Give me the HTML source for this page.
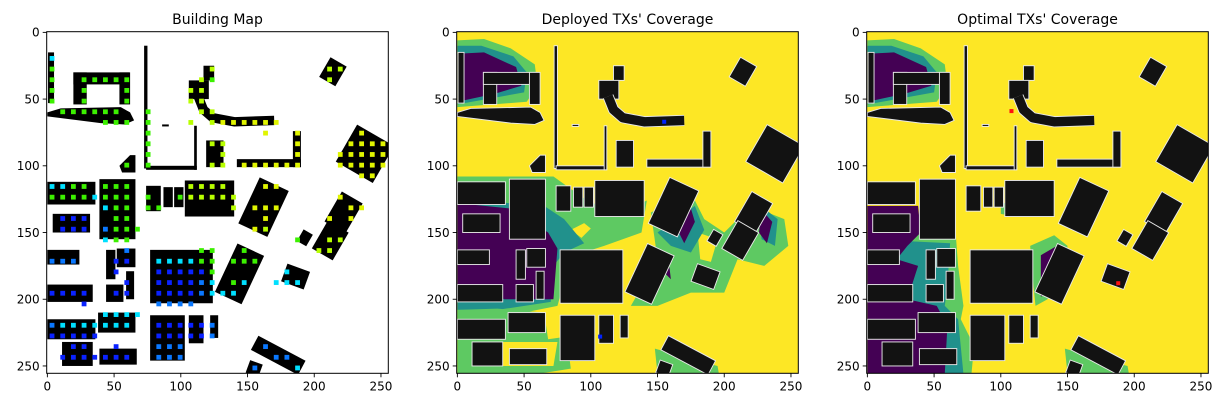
<!DOCTYPE html>
<html><head><meta charset="utf-8"><style>
html,body{margin:0;padding:0;background:#fff;}
svg{display:block;font-family:"DejaVu Sans","Liberation Sans",sans-serif;}
</style></head><body>
<svg id="fig" width="1224" height="407" viewBox="0 0 1224 407" xmlns="http://www.w3.org/2000/svg"></svg>
<script>
// ---- data ----
const panelTitles = ["Building Map", "Deployed TXs' Coverage", "Optimal TXs' Coverage"];
const panelLeft = [46.7, 456.7, 866.7];
const tickValues = [0, 50, 100, 150, 200, 250];
const tickLabels = ["0", "50", "100", "150", "200", "250"];
// buildings as rects [x, y, w, h, rotationDeg] in grid cells
const buildingRects = [
 [0.5,15,4.5,38,0],[19.5,30,10,24,0],[19.5,30,42,9,0],[54,30,8,24,0],
 [72.5,10,2.5,92,0],[74,100,38,3,0],[110,70,2,33,0],[86,69,5,1.5,0],
 [117,25,8,11,0],[106,36,15,14,0],[119,81,13,20,0],[142,95,48,6,0],[184,74,6,27,0],
 [207,21,14,17,30],[222,75,32,32,30],
 [0,112,36,17,0],[39,110,27,45,0],[74,115,11,19,0],[87,116,7,15,0],[95,116,7,15,0],[103,111,37,27,0],
 [4,136,28,14,0],[150,112,24,38,25],[213,122,18,26,30],[203,144,18,24,30],[189,149,8,10,30],
 [0,163,24,11,0],[44,163,7,22,0],[52,162,14,14,0],[59,179,6,21,0],[44,189,13,13,0],
 [77,163,47,40,0],[133,161,22,40,25],[177,176,18,14,20],[0,189,34,13,0],
 [0,215,36,15,0],[38,210,28,15,0],[77,212,26,34,0],[106,212,11,21,0],[122,212,6,17,0],
 [11,232,23,18,0],[39,237,28,12,0],[153,236,40,12,28],[150,247,10,10,20]
];
const buildingPolys = [
 [[0,60],[10,57],[55,56],[62,60],[65,66],[58,69],[40,68],[0,63]],
 [[54,100],[62,92],[66,92],[66,105],[56,105]]
];
const curveBuilding = [[113,48],[117,58],[124,64],[140,67],[170,66]];
// dot grid rows: row j, chars per column i; g green, y yellow-green, Y yellow, c cyan, m medium blue, b blue
const dotRows = [
 "................................",
 "................................",
 "c...............................",
 "g..............y..........yy....",
 "g..ggggg......yg..........y.....",
 "g..g...g.....yy.................",
 "g..g...g.....yy.................",
 ".gggggg..g....yy................",
 ".....ggg.g...y.yYYYYYY..........",
 ".........g..........Y..Y.....Y..",
 ".........g.....yy......Y....YYYY",
 ".........g......y......Y...YYYYY",
 ".......g.g.....yy.YYYYYY...YYYYY",
 ".............................YY.",
 "ccgg.ggg.....yyyy...YY..........",
 "ggggcggg.g..gyyyyy.........Y....",
 ".....cgg.gg......y.YYY......YY..",
 ".bbb..gg............Y.....Y.Y...",
 ".bbb.mggg..........Yy...........",
 ".....cgg...............g..yy....",
 ".......m......gg..g......yy.....",
 "mmm...bb..ccccgg.ggg............",
 "......b...bbbbbg......c.........",
 ".......b..bbbbmc.gc..ccc........",
 "bbbb..bb..bbbbmccc..............",
 "...b......mmmm..................",
 ".....cccc.......................",
 "mccccccc..bbbbbm................",
 "bbbbb.....bbbbbm................",
 "..bb..b...mmm.......m...........",
 ".bbbbbbb..mmm........mm.........",
 "...................m...c........"
];
const dotColors = {g:"#3cf000", y:"#b8ff00", Y:"#e0f500", c:"#00e0ff", m:"#0a78ff", b:"#0a22ff"};
// coverage regions per panel: [color, polygon]
const coverage2 = [
 ["#5ec962",[[0,6],[20,5],[40,12],[58,24],[60,40],[52,52],[0,56]]],
 ["#21918c",[[0,10],[18,10],[42,18],[52,30],[50,45],[0,54]]],
 ["#440154",[[0,16],[20,15],[44,26],[48,40],[28,46],[0,52]]],
 ["#5ec962",[[0,108],[72,108],[100,128],[130,132],[142,126],[138,150],[110,160],[85,168],[75,205],[40,212],[0,214]]],
 ["#fde725",[[85,148],[95,143],[100,147],[93,154]]],
 ["#21918c",[[0,125],[65,130],[80,140],[95,158],[80,165],[72,175],[70,202],[30,208],[0,208]]],
 ["#440154",[[0,128],[40,132],[68,150],[75,162],[72,200],[35,200],[15,190],[0,192]]],
 ["#5ec962",[[0,208],[30,207],[65,210],[68,230],[82,228],[85,252],[60,256],[0,256]]],
 ["#fde725",[[12,232],[75,232],[72,250],[12,250]]],
 ["#5ec962",[[145,135],[175,120],[185,140],[200,150],[220,130],[245,140],[248,160],[230,175],[210,170],[200,195],[175,195],[150,205],[130,205],[150,170]]],
 ["#fde725",[[180,150],[195,155],[190,172],[182,170]]],
 ["#21918c",[[150,150],[178,130],[185,148],[175,165],[160,160]]],
 ["#21918c",[[225,128],[240,140],[238,160],[228,155]]],
 ["#440154",[[165,148],[175,132],[178,142],[170,158]]],
 ["#440154",[[228,133],[236,142],[232,158],[226,150]]],
 ["#440154",[[150,175],[158,168],[160,185]]],
 ["#5ec962",[[148,237],[195,250],[196,256],[150,256]]]
];
const coverage3 = [
 ["#5ec962",[[0,6],[20,5],[40,12],[58,24],[60,40],[52,52],[0,56]]],
 ["#21918c",[[0,10],[18,10],[42,18],[52,30],[50,45],[0,54]]],
 ["#440154",[[0,16],[20,15],[44,26],[48,40],[28,46],[0,52]]],
 ["#5ec962",[[0,150],[66,148],[68,175],[72,205],[70,215],[80,235],[78,256],[0,256]]],
 ["#21918c",[[0,155],[62,158],[60,190],[58,205],[68,215],[72,256],[0,256]]],
 ["#440154",[[0,130],[38,130],[40,150],[30,160],[22,170],[38,175],[30,200],[52,205],[60,220],[58,256],[0,256]]],
 ["#5ec962",[[122,160],[140,152],[150,160],[148,175],[135,200],[126,205],[124,185]]],
 ["#440154",[[130,167],[142,160],[149,170],[138,195],[130,198]]],
 ["#5ec962",[[100,128],[112,128],[110,138],[100,136]]],
 ["#5ec962",[[148,237],[195,250],[196,256],[150,256]]]
];
const txDeployed = [[155,67],[107,228]];
const txOptimal = [[108,59],[188,188]];

// ---- render ----
const NS = "http://www.w3.org/2000/svg";
const svg = document.getElementById("fig");
const TOP = 31.7, SIZE = 341.6, K = SIZE / 256;
function el(tag, attrs, parent) {
  const e = document.createElementNS(NS, tag);
  for (const k in attrs) e.setAttribute(k, attrs[k]);
  parent.appendChild(e);
  return e;
}
function sx(p, v) { return panelLeft[p] + (v + 0.5) * K; }
function sy(v) { return TOP + (v + 0.5) * K; }

function drawBuildings(g, fill, stroke, sw) {
  buildingRects.forEach(r => {
    const cx = r[0] + r[2] / 2, cy = r[1] + r[3] / 2;
    const b = el("rect", {x: r[0], y: r[1], width: r[2], height: r[3], fill: fill, stroke: stroke, "stroke-width": sw,
      transform: "rotate(" + r[4] + " " + cx + " " + cy + ")"}, g);
    
    
  });
  buildingPolys.forEach(pl => {
    const b = el("polygon", {points: pl.map(p => p.join(",")).join(" "), fill: fill, stroke: stroke, "stroke-width": sw}, g);
    
    
  });
  if (stroke !== "none") {
    el("polyline", {points: curveBuilding.map(p => p.join(",")).join(" "), fill: "none", stroke: stroke, "stroke-width": 7 + 2 * sw, "stroke-linejoin": "round"}, g);
  }
  const c = el("polyline", {points: curveBuilding.map(p => p.join(",")).join(" "), fill: "none", stroke: fill, "stroke-width": 7, "stroke-linejoin": "round"}, g);
  
  
}

for (let p = 0; p < 3; p++) {
  const panel = el("g", {}, svg);
  
  
  const x0 = panelLeft[p];
  el("clipPath", {id: "clip" + p}, panel).appendChild(
    (() => { const r = document.createElementNS(NS, "rect"); r.setAttribute("x", x0); r.setAttribute("y", TOP); r.setAttribute("width", SIZE); r.setAttribute("height", SIZE); return r; })());
  const area = el("g", {"clip-path": "url(#clip" + p + ")"}, panel);
  
  
  el("rect", {x: x0, y: TOP, width: SIZE, height: SIZE, fill: p === 0 ? "#ffffff" : "#fde725"}, area);
  const g = el("g", {transform: "translate(" + (x0 + 0.5 * K) + "," + (TOP + 0.5 * K) + ") scale(" + K + ")"}, area);
  if (p === 0) {
    drawBuildings(g, "#000", "none", 0);
    dotRows.forEach((row, j) => {
      for (let i = 0; i < row.length; i++) {
        const ch = row[i];
        if (ch === ".") continue;
        const d = el("rect", {x: 1.7 + 8 * i, y: 1.7 + 8 * j, width: 3.6, height: 3.6, fill: dotColors[ch]}, g);
        
        
      }
    });
  } else {
    const cov = p === 1 ? coverage2 : coverage3;
    cov.forEach(c => {
      const r = el("polygon", {points: c[1].map(q => q.join(",")).join(" "), fill: c[0]}, g);
      
      
    });
    drawBuildings(g, "#121212", "#e8e8e8", 0.7);
    const tx = p === 1 ? txDeployed : txOptimal;
    tx.forEach(t => {
      const m = el("rect", {x: t[0] - 1.5, y: t[1] - 1.5, width: 3, height: 3, fill: p === 1 ? "#0022ff" : "#ff1010"}, g);
      
      
    });
  }
  const frame = el("rect", {x: x0, y: TOP, width: SIZE, height: SIZE, fill: "none", stroke: "#000", "stroke-width": 1}, panel);
  
  
  tickValues.forEach((v, i) => {
    const tx = sx(p, v);
    el("line", {x1: tx, y1: TOP + SIZE, x2: tx, y2: TOP + SIZE + 4, stroke: "#000", "stroke-width": 0.9}, panel);
    const lx = el("text", {x: tx, y: TOP + SIZE + 17, "font-size": 12, "text-anchor": "middle", fill: "#000"}, panel);
    lx.textContent = tickLabels[i];
    
    
    const ty = sy(v);
    el("line", {x1: x0, y1: ty, x2: x0 - 4, y2: ty, stroke: "#000", "stroke-width": 0.9}, panel);
    const ly = el("text", {x: x0 - 7, y: ty + 4.3, "font-size": 12, "text-anchor": "end", fill: "#000"}, panel);
    ly.textContent = tickLabels[i];
    
    
  });
  const t = el("text", {x: x0 + SIZE / 2, y: 24, "font-size": 14, "text-anchor": "middle", fill: "#000"}, panel);
  t.textContent = panelTitles[p];
  
  
}
</script>
</body></html>
